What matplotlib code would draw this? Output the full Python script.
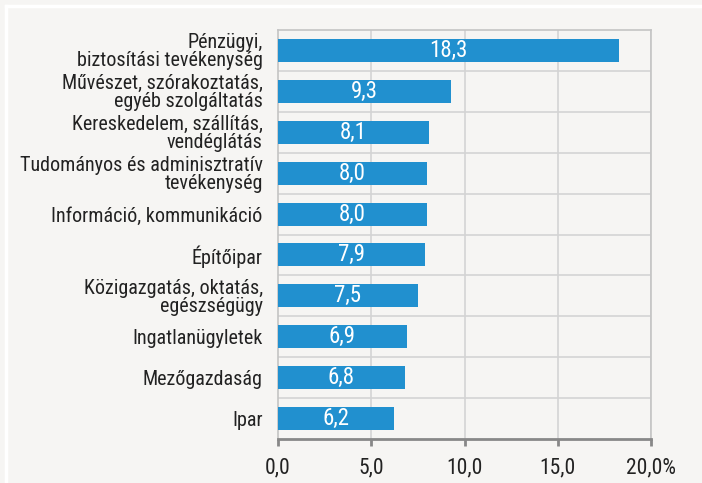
import matplotlib
matplotlib.use("Agg")
import matplotlib.pyplot as plt

categories = [
    "Pénzügyi,\nbiztosítási tevékenység",
    "Művészet, szórakoztatás,\negyéb szolgáltatás",
    "Kereskedelem, szállítás,\nvendéglátás",
    "Tudományos és adminisztratív\ntevékenység",
    "Információ, kommunikáció",
    "Építőipar",
    "Közigazgatás, oktatás,\negészségügy",
    "Ingatlanügyletek",
    "Mezőgazdaság",
    "Ipar",
]
values = [18.3, 9.3, 8.1, 8.0, 8.0, 7.9, 7.5, 6.9, 6.8, 6.2]
xticks = [0, 5, 10, 15, 20]
xticklabels = ["0,0", "5,0", "10,0", "15,0", "20,0%"]

bg = "#f6f5f3"
bar_color = "#2190cf"

plt.rcParams["font.family"] = ["Roboto Condensed", "DejaVu Sans"]

fig = plt.figure(figsize=(7.02, 4.83), dpi=100, facecolor=bg)
ax = fig.add_axes([278 / 702, 1 - 439 / 483, (651 - 278) / 702, (439 - 30) / 483])
ax.set_facecolor(bg)

# white frame lines on top/left of the picture
fig.add_artist(plt.Line2D([6 / 702, 1], [1 - 6 / 483, 1 - 6 / 483], color="white", lw=2.5,
                          transform=fig.transFigure))
fig.add_artist(plt.Line2D([6 / 702, 6 / 702], [0, 1 - 6 / 483], color="white", lw=2.5,
                          transform=fig.transFigure))

n = len(categories)
ypos = list(range(n))
ax.barh(ypos, values, height=0.56, color=bar_color, zorder=3)
for y, v in zip(ypos, values):
    ax.text(v / 2, y, f"{v:.1f}".replace(".", ","), ha="center", va="center",
            color="white", fontsize=16.5, zorder=4)

ax.set_ylim(n - 0.5, -0.5)
ax.set_xlim(0, 20)
ax.set_yticks(ypos)
ax.set_yticklabels(categories, fontsize=14.5, color="#222222", linespacing=0.92)
ax.tick_params(axis="y", length=0, pad=11)
ax.set_xticks(xticks)
ax.set_xticklabels(xticklabels, fontsize=15.5, color="#222222")
ax.tick_params(axis="x", length=5, width=2, color="#888888", pad=8, direction="out")

# grid: vertical at ticks, horizontal at category boundaries
for x in xticks[1:]:
    ax.axvline(x, color="#d4d4d4", lw=1.2, zorder=1)
for b in range(n - 1):
    ax.axhline(b + 0.5, color="#d4d4d4", lw=1.2, zorder=1)

for s in ["top", "right", "left"]:
    ax.spines[s].set_color("#c4c4c4")
    ax.spines[s].set_linewidth(1.2)
ax.spines["bottom"].set_color("#888888")
ax.spines["bottom"].set_linewidth(2)

fig.savefig("out.png", dpi=100, facecolor=bg)
